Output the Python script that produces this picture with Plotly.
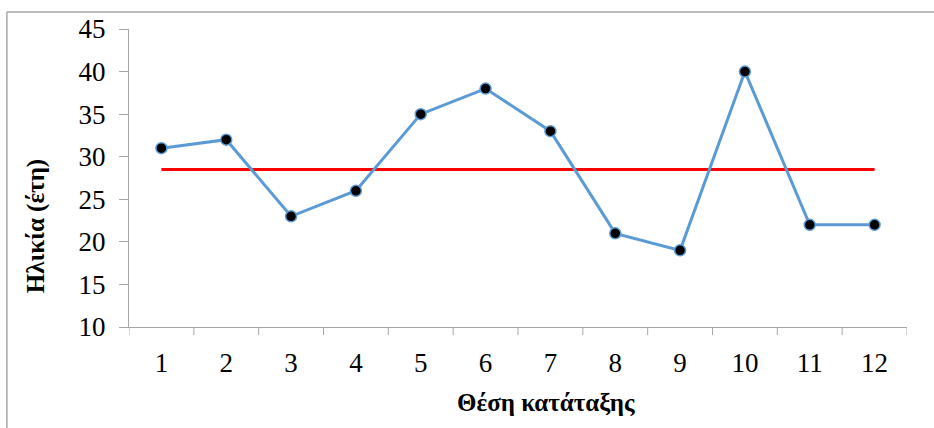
import plotly.graph_objects as go

# Ranking position vs. age, with the mean age as a horizontal reference line
positions = [1, 2, 3, 4, 5, 6, 7, 8, 9, 10, 11, 12]
ages = [31, 32, 23, 26, 35, 38, 33, 21, 19, 40, 22, 22]
mean_age = sum(ages) / len(ages)

y_ticks = [10, 15, 20, 25, 30, 35, 40, 45]

SERIF = "Liberation Serif"
AXIS_GRAY = "#A6A6A6"

fig = go.Figure()

fig.add_trace(go.Scatter(
    x=[positions[0], positions[-1]],
    y=[mean_age, mean_age],
    mode="lines",
    line=dict(color="#FF0000", width=3),
    hoverinfo="skip",
    showlegend=False,
))

fig.add_trace(go.Scatter(
    x=positions,
    y=ages,
    mode="lines+markers",
    line=dict(color="#5B9BD5", width=3),
    marker=dict(size=11, color="#000000", line=dict(color="#5B9BD5", width=1.5)),
    showlegend=False,
))

fig.update_layout(
    width=934,
    height=428,
    margin=dict(l=129, r=27, t=29, b=101),
    paper_bgcolor="white",
    plot_bgcolor="white",
    font=dict(family=SERIF, color="#000000"),
    xaxis=dict(
        range=[0.5, 12.5],
        tickmode="array",
        tickvals=positions,
        ticktext=[str(p) for p in positions],
        showgrid=False,
        zeroline=False,
        showline=True,
        linecolor=AXIS_GRAY,
        linewidth=1,
        ticks="",
        tickfont=dict(size=27, family=SERIF, color="#000000"),
        ticklabelstandoff=12,
    ),
    yaxis=dict(
        range=[10, 45],
        tickmode="array",
        tickvals=y_ticks,
        showgrid=False,
        zeroline=False,
        showline=True,
        linecolor=AXIS_GRAY,
        linewidth=1,
        ticks="outside",
        ticklen=9,
        tickcolor=AXIS_GRAY,
        tickfont=dict(size=27, family=SERIF, color="#000000"),
        ticklabelstandoff=8,
    ),
)

# Category boundary tick marks below the x axis
for b in range(13):
    fig.add_shape(
        type="line", xref="x", yref="paper",
        x0=b + 0.5, x1=b + 0.5, y0=0, y1=-0.027,
        line=dict(color=AXIS_GRAY, width=1),
    )

# Axis titles
fig.add_annotation(
    text="<b>Θέση κατάταξης</b>", xref="paper", yref="paper",
    x=0.536, y=-0.252, xanchor="center", yanchor="middle",
    showarrow=False, font=dict(size=25, family=SERIF, color="#000000"),
)
fig.add_annotation(
    text="<b>Ηλικία (έτη)</b>", xref="paper", yref="paper",
    x=-0.120, y=0.337, xanchor="center", yanchor="middle",
    textangle=-90, showarrow=False, font=dict(size=25, family=SERIF, color="#000000"),
)

# Chart area frame (top and left edges)
fig.add_shape(type="line", xref="paper", yref="paper",
              x0=-0.157, x1=1.1, y0=1.057, y1=1.057,
              line=dict(color=AXIS_GRAY, width=1.5))
fig.add_shape(type="line", xref="paper", yref="paper",
              x0=-0.157, x1=-0.157, y0=1.057, y1=-0.4,
              line=dict(color=AXIS_GRAY, width=1.5))

fig.write_html("out.html")
